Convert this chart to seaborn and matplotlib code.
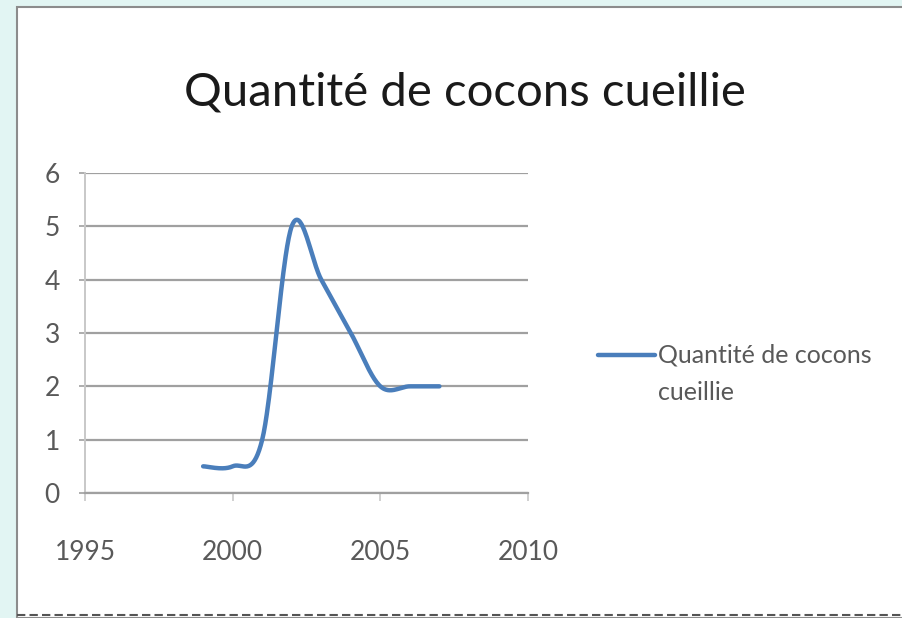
import numpy as np
import pandas as pd
import matplotlib
matplotlib.use("Agg")
import matplotlib.pyplot as plt
import seaborn as sns
from matplotlib.patches import Rectangle
from matplotlib.lines import Line2D

# valeurs
annees = [1999, 2000, 2001, 2002, 2003, 2004, 2005, 2006, 2007]
quantite = [0.5, 0.5, 1.0, 5.0, 4.0, 3.0, 2.0, 2.0, 2.0]
x_ticks = [1995, 2000, 2005, 2010]
y_ticks = [0, 1, 2, 3, 4, 5, 6]
titre = "Quantité de cocons cueillie"
legende = ["Quantité de cocons", "cueillie"]

bleu = "#4a7ebb"
gris_texte = "#595959"
gris_grille = "#a0a0a0"


def courbe_lissee(xs, ys, n=40):
    # lissage façon Excel (Bezier type Catmull-Rom) pour le tracé seulement
    p = np.column_stack([xs, ys]).astype(float)
    p_ext = np.vstack([p[0], p, p[-1]])
    pts = []
    for i in range(len(p) - 1):
        p0, p1, p2, p3 = p_ext[i], p_ext[i + 1], p_ext[i + 2], p_ext[i + 3]
        c1 = p1 + (p2 - p0) / 6
        c2 = p2 - (p3 - p1) / 6
        t = np.linspace(0, 1, n)[:, None]
        seg = ((1 - t) ** 3) * p1 + 3 * ((1 - t) ** 2) * t * c1 + 3 * (1 - t) * t ** 2 * c2 + t ** 3 * p2
        pts.append(seg if i == 0 else seg[1:])
    pts = np.vstack(pts)
    return pd.DataFrame({"annee": pts[:, 0], "quantite": pts[:, 1]})


sns.set_theme(style="white")
plt.rcParams['font.family'] = ['Lato', 'DejaVu Sans']

fig = plt.figure(figsize=(9.03, 6.18), dpi=100)
fig.patch.set_facecolor("#e2f5f3")

# cadre blanc du graphique
fig.add_artist(Rectangle((17 / 903, 0), 1, 1 - 7 / 618, transform=fig.transFigure,
                         facecolor="white", edgecolor="#8c8c8c", linewidth=1.5, zorder=0))
fig.add_artist(Line2D([17 / 903, 1], [3 / 618, 3 / 618], transform=fig.transFigure,
                      color="#555555", linewidth=1.5, linestyle=(0, (4, 2))))

ax = fig.add_axes([85 / 903, 1 - 493 / 618, (528 - 85) / 903, (493 - 173) / 618])
ax.set_facecolor("none")

df = courbe_lissee(annees, quantite)
sns.lineplot(data=df, x="annee", y="quantite", ax=ax, color=bleu, linewidth=3.2, sort=False)

ax.set_xlim(1995, 2010)
ax.set_ylim(0, 6)
ax.set_xticks(x_ticks)
ax.set_yticks(y_ticks)
ax.set_xlabel("")
ax.set_ylabel("")
ax.grid(axis="y", color=gris_grille, linewidth=1.6)
ax.grid(axis="x", visible=False)
for s in ["top", "right"]:
    ax.spines[s].set_visible(False)
ax.spines["left"].set_color("#c8c8c8")
ax.spines["left"].set_linewidth(1.4)
ax.spines["bottom"].set_color(gris_grille)
ax.spines["bottom"].set_linewidth(1.6)
ax.tick_params(axis="x", direction="out", length=6, width=1.2, color="#c8c8c8",
               pad=28, labelsize=19, labelcolor=gris_texte, bottom=True)
ax.tick_params(axis="y", direction="out", length=4, width=1.2, color=gris_grille,
               pad=14, labelsize=19, labelcolor=gris_texte, left=True)

fig.text(465 / 903, 1 - 93 / 618, titre, ha="center", va="center",
         fontsize=34, color="#1a1a1a")

# légende
fig.add_artist(Line2D([598 / 903, 655 / 903], [1 - 355 / 618, 1 - 355 / 618],
                      transform=fig.transFigure, color=bleu, linewidth=3.2))
fig.text(658 / 903, 1 - 355 / 618, legende[0], ha="left", va="center", fontsize=18, color=gris_texte)
fig.text(658 / 903, 1 - 393 / 618, legende[1], ha="left", va="center", fontsize=18, color=gris_texte)

fig.savefig("out.png", dpi=100, facecolor=fig.get_facecolor())
